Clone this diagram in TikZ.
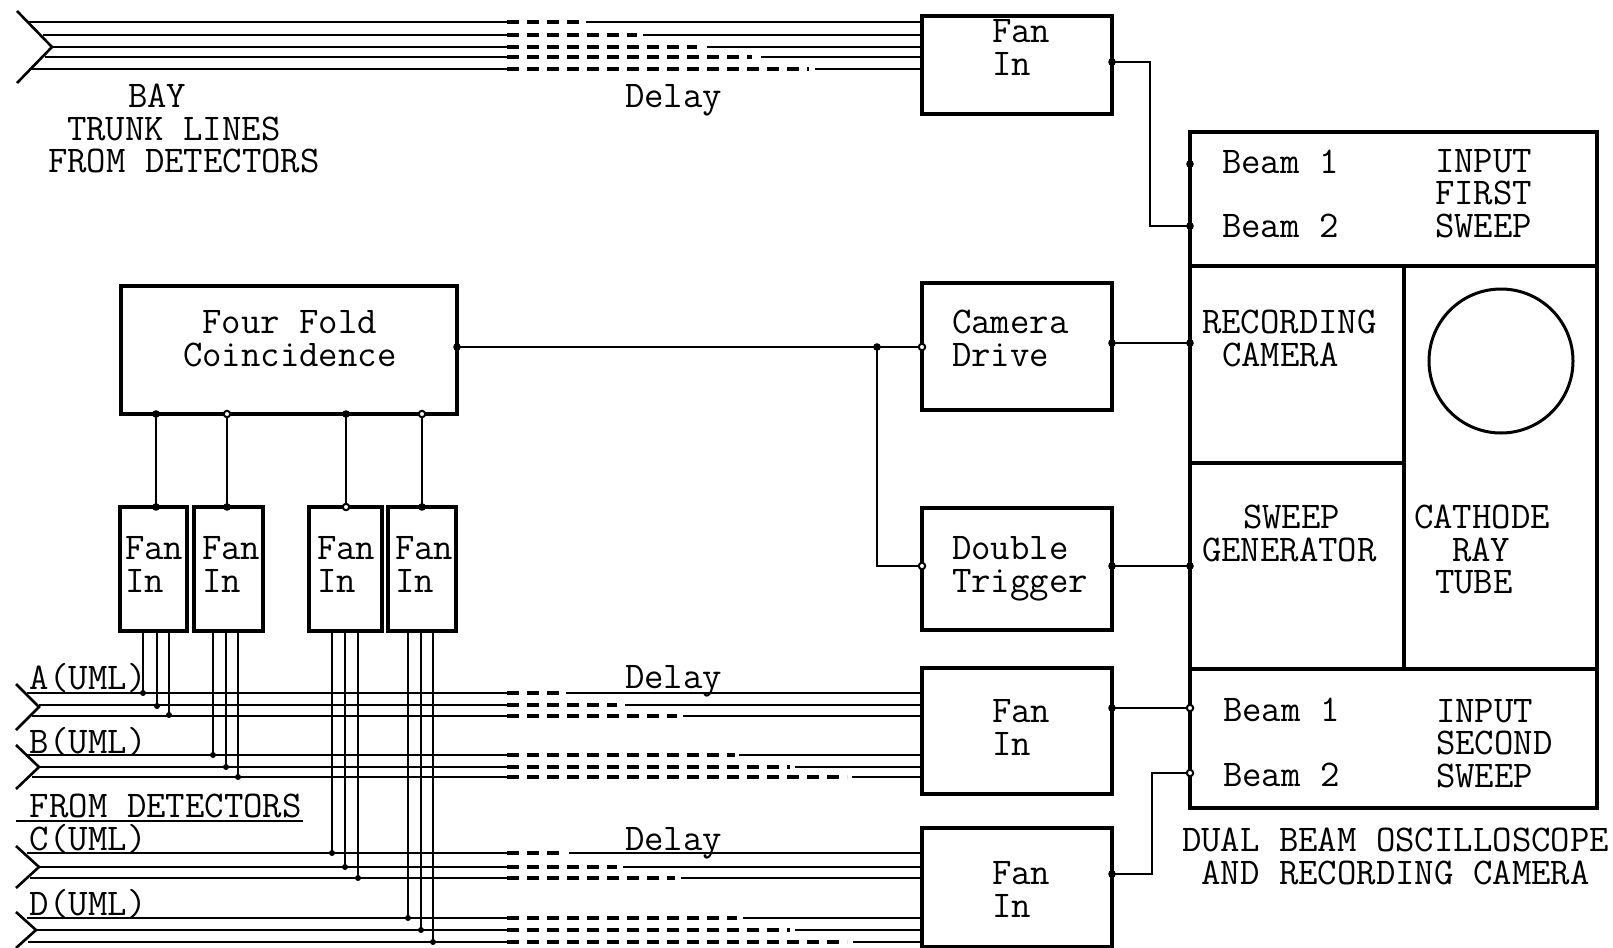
\documentclass[tikz,border=0pt]{standalone}
\usepackage{fontspec}
\usepackage{tikz}
\usetikzlibrary{positioning}

\begin{document}
\begin{tikzpicture}[
    x=0.5pt, y=-0.5pt,
    box/.style={rectangle, draw, line width=1.8pt, inner sep=0pt, outer sep=0pt},
    widebox/.style={box, minimum width=95pt},
    smallbox/.style={box, minimum height=62pt},
    panel/.style={box, line width=1.6pt},
    txt/.style={anchor=base west, inner sep=0pt, outer sep=0pt, align=left, yshift=-0.5pt,
                font=\fontsize{18.85}{16.25}\selectfont\ttfamily},
    txtc/.style={txt, align=center},
    wire/.style={line width=1pt},
    delayline/.style={line width=1.6pt, dash pattern=on 6pt off 4pt},
    chevron/.style={line width=1.3pt},
]
\useasboundingbox (0,0) rectangle (1613,948);

\node[widebox, minimum height=49pt] (fanTop) at (1017,65) {};
\node[widebox, minimum height=63.5pt, below=84.5pt of fanTop] (camera) {};
\node[widebox, minimum height=61pt, below=49pt of camera] (trigger) {};
\node[widebox, minimum height=63pt, below=19pt of trigger] (fanA) {};
\node[widebox, minimum height=59.5pt, below=17pt of fanA] (fanB) {};

\node[box, minimum width=168pt, minimum height=64pt] (coinc) at (289,350) {};
\node[smallbox, minimum width=33.5pt] (fanOne) at (153.5,569) {};
\node[smallbox, minimum width=34.5pt, right=3.5pt of fanOne] (fanTwo) {};
\node[smallbox, minimum width=36.5pt, right=23pt of fanTwo] (fanThree) {};
\node[smallbox, minimum width=34pt, right=3pt of fanThree] (fanFour) {};

\node[panel, minimum width=203.5pt, minimum height=67pt] (firstSweep) at (1393.5,199) {};
\node[panel, minimum width=107pt, minimum height=98.5pt, anchor=north west] (recording) at (firstSweep.south west) {};
\node[panel, minimum width=107pt, minimum height=103pt, below=0pt of recording] (sweepGen) {};
\node[panel, minimum width=96.5pt, minimum height=201.5pt, anchor=north east] (crt) at (firstSweep.south east) {};
\node[panel, minimum width=203.5pt, minimum height=69.5pt, anchor=north west] (secondSweep) at (sweepGen.south west) {};
\coordinate (tubeFace) at (1501,361);
\draw[line width=1.5pt] (tubeFace) circle (72);

\node[txt] (bayText) at (128,106) {BAY};
\node[txt] (trunkText) at (67,139) {TRUNK LINES};
\node[txt] (fromText) at (48,171) {FROM DETECTORS};
\node[txt] (delayTop) at (625,106) {Delay};
\node[txt] (delayA) at (625,687) {Delay};
\node[txt] (delayB) at (625,849) {Delay};

\node[txt] (labelA) at (30,688) {A(UML)};
\node[txt] (labelB) at (30,752) {B(UML)};
\node[txt] (labelFrom) at (30,816) {FROM DETECTORS};
\node[txt] (labelC) at (30,849) {C(UML)};
\node[txt] (labelD) at (30,914) {D(UML)};

\node[txtc] (coincText) at (183,365) {Four Fold\\Coincidence};
\node[txt] (fanTopText) at (992,74) {Fan\\In};
\node[txt] (cameraText) at (952,365) {Camera\\Drive};
\node[txt] (triggerText) at (952,591) {Double\\Trigger};
\node[txt] (fanAText) at (992,754) {Fan\\In};
\node[txt] (fanBText) at (992,916) {Fan\\In};
\node[txt] (fanOneText) at (125,591) {Fan\\In};
\node[txt] (fanTwoText) at (202,591) {Fan\\In};
\node[txt] (fanThreeText) at (317,591) {Fan\\In};
\node[txt] (fanFourText) at (395,591) {Fan\\In};

\node[txt] (beamOne) at (1222,172) {Beam 1};
\node[txt] (beamTwo) at (1222,236) {Beam 2};
\node[txt] (firstText) at (1435,236) {INPUT\\FIRST\\SWEEP};
\node[txt] (recordText) at (1202,332) {RECORDING};
\node[txt] (cameraWord) at (1222,365) {CAMERA};
\node[txt] (sweepText) at (1243,527) {SWEEP};
\node[txt] (genText) at (1202,560) {GENERATOR};
\node[txt] (cathText) at (1414,527) {CATHODE};
\node[txt] (rayText) at (1452,560) {RAY};
\node[txt] (tubeText) at (1435,592) {TUBE};
\node[txt] (beamThree) at (1223,720) {Beam 1};
\node[txt] (beamFour) at (1223,785) {Beam 2};
\node[txt] (secondText) at (1436,786) {INPUT\\SECOND\\SWEEP};
\node[txtc] (scopeText) at (1182,883) {DUAL BEAM OSCILLOSCOPE\\AND RECORDING CAMERA};

\foreach \xx/\yy/\dashend/\lineon in {29/22/580/586, 43/35/637/643, 52/47/697/707, 45/57/752/761, 29/69/809/815}{
  \coordinate (lineS\yy) at (\xx,\yy);
  \coordinate (dashS\yy) at (507,\yy);
  \coordinate (dashE\yy) at (\dashend,\yy);
  \coordinate (lineE\yy) at (\lineon,\yy);
  \draw[wire] (lineS\yy) -- (dashS\yy);
  \draw[delayline] (dashS\yy) -- (dashE\yy);
  \draw[wire] (lineE\yy) -- (lineE\yy -| fanTop.west);
}

\foreach \xx/\yy/\dashend/\lineon in {27/693/562/566, 39/705/617/625, 32/716/677/683, 27/755/735/739, 39/767/790/795, 32/777/847/852}{
  \coordinate (lineS\yy) at (\xx,\yy);
  \coordinate (dashS\yy) at (507,\yy);
  \coordinate (dashE\yy) at (\dashend,\yy);
  \coordinate (lineE\yy) at (\lineon,\yy);
  \draw[wire] (lineS\yy) -- (dashS\yy);
  \draw[delayline] (dashS\yy) -- (dashE\yy);
  \draw[wire] (lineE\yy) -- (lineE\yy -| fanA.west);
}

\foreach \xx/\yy/\dashend/\lineon in {27/853/563/569, 39/867/617/623, 30/878/675/681, 27/918/737/743, 36/930/790/795, 28/942/847/853}{
  \coordinate (lineS\yy) at (\xx,\yy);
  \coordinate (dashS\yy) at (507,\yy);
  \coordinate (dashE\yy) at (\dashend,\yy);
  \coordinate (lineE\yy) at (\lineon,\yy);
  \draw[wire] (lineS\yy) -- (dashS\yy);
  \draw[delayline] (dashS\yy) -- (dashE\yy);
  \draw[wire] (lineE\yy) -- (lineE\yy -| fanB.west);
}

\coordinate (chevTop) at (52,47);
\coordinate (chevA) at (39,707);
\coordinate (chevB) at (39,767);
\coordinate (chevC) at (39,867);
\coordinate (chevD) at (36,930);
\draw[chevron] (chevTop) ++(-35,-36) -- (chevTop) -- ++(-35,36);
\draw[chevron] (chevA) ++(-23,-23) -- (chevA) -- ++(-23,23);
\draw[chevron] (chevB) ++(-23,-22) -- (chevB) -- ++(-23,22);
\draw[chevron] (chevC) ++(-23,-21) -- (chevC) -- ++(-23,21);
\draw[chevron] (chevD) ++(-20,-18) -- (chevD) -- ++(-20,18);

\coordinate (fromRule) at (16,821);
\draw[wire] (fromRule) -- ++(287,0);

\foreach \fan/\xx/\yy in {One/143/693, One/157/706, One/169/715,
                          Two/213/755, Two/226/767, Two/238/777,
                          Three/332/853, Three/345/867, Three/358/878,
                          Four/408/918, Four/421/930, Four/433/942}{
  \coordinate (tap\xx) at (\xx,\yy);
  \draw[wire] (tap\xx) -- (tap\xx |- fan\fan.south);
  \fill (tap\xx) circle (1.5pt);
}

\foreach \fan/\off in {One/1.25, Two/-0.75, Three/0.25, Four/0}{
  \coordinate (fanIn\fan) at ([xshift=\off pt]fan\fan.north);
  \coordinate (coincIn\fan) at (fanIn\fan |- coinc.south);
  \draw[wire] (coincIn\fan) -- (fanIn\fan);
}

\coordinate (coincOut) at ([yshift=1.5pt]coinc.east);
\coordinate (branch) at (coincOut -| 877,0);
\coordinate (cameraIn) at (coincOut -| camera.west);
\coordinate (triggerIn) at ([yshift=1.5pt]trigger.west);
\draw[wire] (coincOut) -- (cameraIn);
\draw[wire] (branch) |- (triggerIn);

\coordinate (cameraOut) at ([yshift=1.75pt]camera.east);
\coordinate (scopeCamera) at (cameraOut -| recording.west);
\draw[wire] (cameraOut) -- (scopeCamera);
\coordinate (triggerOut) at (triggerIn -| trigger.east);
\coordinate (scopeTrigger) at (triggerIn -| sweepGen.west);
\draw[wire] (triggerOut) -- (scopeTrigger);

\coordinate (fanTopOut) at ([yshift=1.5pt]fanTop.east);
\coordinate (fanTopTurn) at (1150,144);
\coordinate (firstOne) at (1190,164);
\coordinate (firstTwo) at (1190,226);
\draw[wire] (fanTopOut) -| (fanTopTurn) |- (firstTwo);

\coordinate (fanAOut) at (1112,708);
\coordinate (secondOne) at (fanAOut -| secondSweep.west);
\draw[wire] (fanAOut) -- (secondOne);
\coordinate (fanBOut) at (1112,874);
\coordinate (fanBTurn) at (1152,820);
\coordinate (secondTwo) at (1190,773);
\draw[wire] (fanBOut) -| (fanBTurn) |- (secondTwo);

\foreach \p in {fanTopOut, firstOne, firstTwo, coincOut, branch, cameraOut, scopeCamera,
                triggerOut, scopeTrigger, fanAOut, fanBOut, fanInOne, fanInTwo, fanInFour,
                coincInOne, coincInThree}{
  \fill (\p) circle (1.9pt);
}
\foreach \p in {cameraIn, triggerIn, secondOne, secondTwo, fanInThree, coincInTwo, coincInFour}{
  \draw[wire, fill=white] (\p) circle (1.6pt);
}

\end{tikzpicture}
\end{document}
